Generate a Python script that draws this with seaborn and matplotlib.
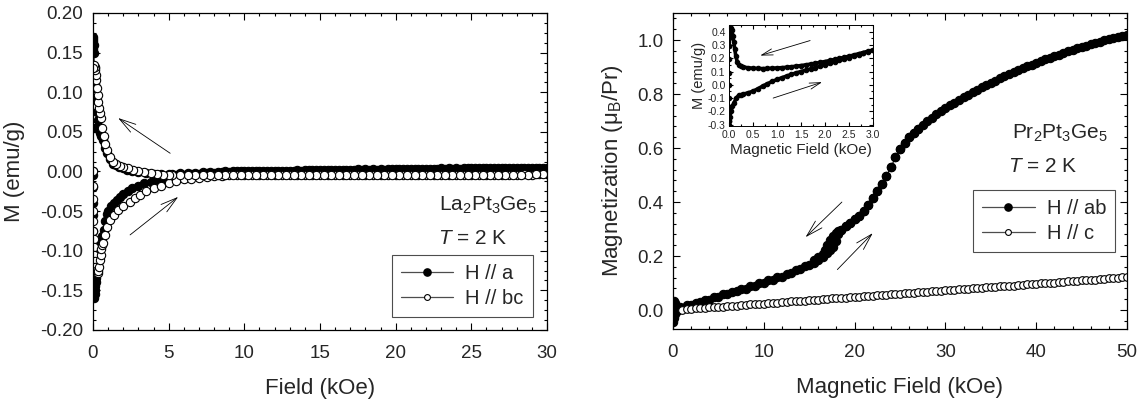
"""
Magnetization loops of La2Pt3Ge5 and Pr2Pt3Ge5 at T = 2 K.
Left: low-field loop of La2Pt3Ge5, right: Pr2Pt3Ge5 with an inset of the low-field loop.
"""

import matplotlib
matplotlib.use("Agg")
import matplotlib.pyplot as plt
from matplotlib.lines import Line2D
from matplotlib.ticker import MultipleLocator, FormatStrFormatter
import seaborn as sns

# ---------------- La2Pt3Ge5 (left panel) ----------------
# field grid used for the high-field part of both loops (kOe)
HF_UP = [5.5, 6.0, 6.5, 7.0, 7.5, 8.0, 8.5, 9.0, 9.5, 10.0,
         10.5, 11.0, 11.5, 12.0, 12.5, 13.0, 13.5, 14.0, 14.5, 15.0,
         15.5, 16.0, 16.5, 17.0, 17.5, 18.0, 18.5, 19.0, 19.5, 20.0,
         20.5, 21.0, 21.5, 22.0, 22.5, 23.0, 23.5, 24.0, 24.5, 25.0,
         25.5, 26.0, 26.5, 27.0, 27.5, 28.0, 28.5, 29.0, 29.5, 30.0]
HF_DN = [29.75, 29.25, 28.75, 28.25, 27.75, 27.25, 26.75, 26.25, 25.75, 25.25,
         24.75, 24.25, 23.75, 23.25, 22.75, 22.25, 21.75, 21.25, 20.75, 20.25,
         19.75, 19.25, 18.75, 18.25, 17.75, 17.25, 16.75, 16.25, 15.75, 15.25,
         14.75, 14.25, 13.75, 13.25, 12.75, 12.25, 11.75, 11.25, 10.75, 10.25,
         9.75, 9.25, 8.75, 8.25, 7.75, 7.25, 6.75, 6.25, 5.75, 5.25]

# H // a (filled)
A_UP_LOW_H = [0.0, 0.005, 0.01, 0.015, 0.02, 0.025, 0.03, 0.04, 0.05, 0.06,
              0.08, 0.1, 0.12, 0.15, 0.18, 0.2, 0.25, 0.3, 0.35, 0.4,
              0.45, 0.5, 0.6, 0.7, 0.8, 0.9, 1.0, 1.2, 1.4, 1.6,
              1.8, 2.0, 2.3, 2.6, 3.0, 3.4, 3.8, 4.2, 4.6, 5.0]
A_UP_LOW_M = [0.0, -0.005, -0.02, -0.04, -0.055, -0.075, -0.095, -0.12, -0.14, -0.155,
              -0.16, -0.155, -0.15, -0.145, -0.14, -0.135, -0.125, -0.115, -0.105, -0.097,
              -0.093, -0.09, -0.082, -0.074, -0.062, -0.054, -0.05, -0.044, -0.04, -0.036,
              -0.032, -0.029, -0.025, -0.021, -0.018, -0.015, -0.013, -0.011, -0.009, -0.007]
A_UP_HIGH_M = [-0.005, -0.004, -0.003, -0.003, -0.002, -0.002, -0.001, -0.001, 0.0, 0.0,
               0.0, 0.001, 0.001, 0.001, 0.001, 0.001, 0.002, 0.002, 0.002, 0.002,
               0.002, 0.002, 0.002, 0.002, 0.003, 0.003, 0.003, 0.003, 0.003, 0.003,
               0.003, 0.003, 0.003, 0.003, 0.003, 0.004, 0.004, 0.004, 0.004, 0.004,
               0.004, 0.004, 0.004, 0.004, 0.004, 0.005, 0.005, 0.005, 0.005, 0.005]
A_DN_HIGH_M = [0.005, 0.005, 0.005, 0.004, 0.004, 0.004, 0.004, 0.004, 0.004, 0.004,
               0.004, 0.003, 0.003, 0.003, 0.003, 0.003, 0.003, 0.003, 0.003, 0.003,
               0.003, 0.002, 0.002, 0.002, 0.002, 0.002, 0.002, 0.002, 0.002, 0.002,
               0.002, 0.002, 0.001, 0.001, 0.001, 0.001, 0.001, 0.001, 0.001, 0.0,
               0.0, 0.0, 0.0, -0.001, -0.001, -0.001, -0.002, -0.002, -0.002, -0.003]
A_DN_LOW_H = [5.0, 4.5, 4.0, 3.5, 3.0, 2.6, 2.25, 2.0, 1.7, 1.5,
              1.3, 1.1, 0.93, 0.8, 0.66, 0.55, 0.46, 0.4, 0.35, 0.3,
              0.25, 0.2, 0.15, 0.1, 0.07, 0.05, 0.03, 0.02, 0.01, 0.0, 0.0]
A_DN_LOW_M = [-0.003, -0.003, -0.003, -0.002, -0.001, 0.0, 0.002, 0.004, 0.006, 0.008,
              0.01, 0.016, 0.023, 0.03, 0.04, 0.045, 0.048, 0.052, 0.057, 0.065,
              0.075, 0.09, 0.11, 0.13, 0.15, 0.16, 0.167, 0.17, 0.165, 0.155, 0.055]

# H // bc (open)
BC_UP_LOW_H = [0.0, 0.005, 0.01, 0.015, 0.02, 0.03, 0.04, 0.05, 0.07, 0.1,
               0.15, 0.2, 0.25, 0.3, 0.35, 0.4, 0.45, 0.5, 0.55, 0.6,
               0.66, 0.8, 0.95, 1.13, 1.4, 1.66, 2.0, 2.45, 2.8, 3.1,
               3.5, 4.0, 4.5, 5.0]
BC_UP_LOW_M = [0.0, -0.018, -0.035, -0.05, -0.062, -0.075, -0.085, -0.095, -0.105, -0.113,
               -0.12, -0.125, -0.128, -0.128, -0.125, -0.12, -0.112, -0.105, -0.098, -0.093,
               -0.09, -0.08, -0.07, -0.061, -0.055, -0.049, -0.043, -0.038, -0.034, -0.03,
               -0.025, -0.021, -0.018, -0.014]
BC_UP_HIGH_M = [-0.012, -0.01, -0.009, -0.008, -0.007, -0.006, -0.006, -0.005, -0.005, -0.005,
                -0.005, -0.005, -0.005, -0.005, -0.005, -0.005, -0.005, -0.005, -0.005, -0.005,
                -0.005, -0.005, -0.005, -0.005, -0.005, -0.004, -0.005, -0.005, -0.004, -0.004,
                -0.004, -0.004, -0.005, -0.004, -0.004, -0.004, -0.004, -0.004, -0.004, -0.004,
                -0.004, -0.004, -0.004, -0.004, -0.004, -0.004, -0.003, -0.004, -0.003, -0.003]
BC_DN_HIGH_M = [-0.003, -0.003, -0.004, -0.004, -0.004, -0.004, -0.004, -0.004, -0.004, -0.004,
                -0.004, -0.004, -0.004, -0.004, -0.004, -0.004, -0.005, -0.004, -0.004, -0.005,
                -0.005, -0.005, -0.005, -0.005, -0.005, -0.005, -0.005, -0.005, -0.005, -0.005,
                -0.005, -0.005, -0.005, -0.005, -0.005, -0.005, -0.005, -0.005, -0.005, -0.005,
                -0.005, -0.005, -0.005, -0.005, -0.005, -0.005, -0.005, -0.005, -0.004, -0.004]
BC_DN_LOW_H = [5.0, 4.6, 4.2, 3.8, 3.4, 3.0, 2.65, 2.3, 2.0, 1.8,
               1.55, 1.3, 1.1, 0.93, 0.8, 0.7, 0.6, 0.5, 0.46, 0.4,
               0.35, 0.3, 0.26, 0.22, 0.18, 0.14, 0.1, 0.06, 0.03]
BC_DN_LOW_M = [-0.004, -0.004, -0.003, -0.002, -0.001, 0.0, 0.002, 0.004, 0.006, 0.007,
               0.009, 0.012, 0.018, 0.027, 0.035, 0.045, 0.055, 0.067, 0.074, 0.08,
               0.088, 0.097, 0.105, 0.115, 0.122, 0.128, 0.132, 0.135, 0.13]

# ---------------- Pr2Pt3Ge5 (right panel) ----------------
AB_UP_H = [0.0, 0.1, 0.2, 0.4, 0.7, 1.0, 1.5,
           2, 3, 4, 5, 6, 7, 8, 9, 10, 11, 12, 13, 14, 15,
           15.5, 16, 16.5, 17, 17.3, 17.6, 17.9, 18.2, 18.5,
           19, 19.5, 20, 20.5, 21, 21.5, 22, 22.5, 23, 23.5, 24, 24.5, 25, 25.5, 26, 26.5, 27,
           28, 29, 30, 31, 32, 33, 34, 35, 36, 37, 38, 39, 40, 41, 42, 43, 44, 45, 46, 47, 48, 49, 50]
AB_UP_M = [0.0, -0.03, -0.015, -0.005, 0.003, 0.008, 0.013,
           0.019, 0.029, 0.039, 0.049, 0.059, 0.069, 0.079, 0.09, 0.1, 0.112, 0.124, 0.137, 0.151, 0.167,
           0.176, 0.186, 0.198, 0.212, 0.222, 0.235, 0.255, 0.28, 0.295,
           0.31, 0.322, 0.336, 0.35, 0.368, 0.39, 0.415, 0.44, 0.468, 0.497, 0.53, 0.565, 0.595, 0.62,
           0.64, 0.657, 0.672,
           0.7, 0.725, 0.747, 0.768, 0.788, 0.807, 0.825, 0.842, 0.858, 0.873, 0.888, 0.902, 0.915,
           0.928, 0.94, 0.952, 0.963, 0.974, 0.984, 0.994, 1.003, 1.012, 1.02]
AB_DN_H = [49.5, 48.5, 47.5, 46.5, 45.5, 44.5, 43.5, 42.5, 41.5, 40.5, 39.5, 38.5, 37.5, 36.5,
           35.5, 34.5, 33.5, 32.5, 31.5, 30.5, 29.5, 28.5, 27.5,
           27, 26.5, 26, 25.5, 25, 24.5, 24, 23.5, 23, 22.5, 22, 21.5, 21, 20.5, 20, 19.5, 19, 18.5,
           18.2, 17.9, 17.6, 17.3, 17.0, 16.75, 16.5, 16.0, 15.5,
           14.5, 13.5, 12.5, 11.5, 10.5, 9.5, 8.5, 7.5, 6.5, 5.5, 4.5, 3.5, 2.5, 1.5,
           0.8, 0.4, 0.2, 0.1, 0.0, 0.0, 0.0, 0.0, 0.05]
AB_DN_M = [1.016, 1.008, 0.999, 0.989, 0.979, 0.969, 0.958, 0.946, 0.934, 0.922, 0.909, 0.895,
           0.881, 0.866, 0.85, 0.834, 0.816, 0.798, 0.778, 0.758, 0.736, 0.713, 0.687,
           0.672, 0.657, 0.64, 0.62, 0.595, 0.565, 0.53, 0.497, 0.468, 0.44, 0.415, 0.39, 0.368,
           0.35, 0.336, 0.322, 0.31, 0.298,
           0.292, 0.285, 0.275, 0.26, 0.24, 0.224, 0.209, 0.195, 0.184,
           0.163, 0.148, 0.134, 0.122, 0.110, 0.099, 0.088, 0.078, 0.068, 0.058, 0.048, 0.038,
           0.028, 0.018,
           0.011, 0.01, 0.025, 0.035, 0.03, 0.012, -0.01, -0.03, -0.045]

C_H = [1.0, 1.5, 2.0, 2.5, 3.0, 3.5, 4.0, 4.5, 5.0, 5.5,
       6.0, 6.5, 7.0, 7.5, 8.0, 8.5, 9.0, 9.5, 10.0, 10.5,
       11.0, 11.5, 12.0, 12.5, 13.0, 13.5, 14.0, 14.5, 15.0, 15.5,
       16.0, 16.5, 17.0, 17.5, 18.0, 18.5, 19.0, 19.5, 20.0, 20.5,
       21.0, 21.5, 22.0, 22.5, 23.0, 23.5, 24.0, 24.5, 25.0, 25.5,
       26.0, 26.5, 27.0, 27.5, 28.0, 28.5, 29.0, 29.5, 30.0, 30.5,
       31.0, 31.5, 32.0, 32.5, 33.0, 33.5, 34.0, 34.5, 35.0, 35.5,
       36.0, 36.5, 37.0, 37.5, 38.0, 38.5, 39.0, 39.5, 40.0, 40.5,
       41.0, 41.5, 42.0, 42.5, 43.0, 43.5, 44.0, 44.5, 45.0, 45.5,
       46.0, 46.5, 47.0, 47.5, 48.0, 48.5, 49.0, 49.5, 50.0]
C_M = [0.002, 0.004, 0.005, 0.006, 0.007, 0.009, 0.010, 0.011, 0.012, 0.013,
       0.015, 0.016, 0.017, 0.018, 0.020, 0.021, 0.022, 0.023, 0.024, 0.026,
       0.027, 0.028, 0.029, 0.031, 0.032, 0.033, 0.034, 0.035, 0.037, 0.038,
       0.039, 0.040, 0.042, 0.043, 0.044, 0.045, 0.046, 0.048, 0.049, 0.050,
       0.051, 0.053, 0.054, 0.055, 0.056, 0.057, 0.059, 0.060, 0.061, 0.062,
       0.063, 0.065, 0.066, 0.067, 0.068, 0.069, 0.071, 0.072, 0.073, 0.074,
       0.076, 0.077, 0.078, 0.079, 0.080, 0.082, 0.083, 0.084, 0.085, 0.086,
       0.088, 0.089, 0.090, 0.091, 0.093, 0.094, 0.095, 0.096, 0.097, 0.099,
       0.100, 0.101, 0.102, 0.104, 0.105, 0.106, 0.107, 0.108, 0.110, 0.111,
       0.112, 0.113, 0.115, 0.116, 0.117, 0.118, 0.119, 0.121, 0.122]

# inset: low-field loop of Pr2Pt3Ge5 in emu/g
INS_DN_H = [3.0, 2.9, 2.8, 2.7, 2.6, 2.5, 2.4, 2.3, 2.2, 2.1,
            2.0, 1.9, 1.8, 1.7, 1.6, 1.5, 1.4, 1.3, 1.2, 1.1,
            1.0, 0.9, 0.8, 0.7, 0.6, 0.5, 0.4, 0.3,
            0.25, 0.2, 0.17, 0.14, 0.12, 0.1, 0.08, 0.06, 0.04, 0.02, 0.01, 0.0]
INS_DN_M = [0.262, 0.253, 0.243, 0.234, 0.224, 0.215, 0.207, 0.199, 0.191, 0.183,
            0.175, 0.169, 0.162, 0.156, 0.150, 0.145, 0.140, 0.136, 0.132, 0.129,
            0.127, 0.125, 0.123, 0.122, 0.123, 0.125, 0.128, 0.134,
            0.14, 0.152, 0.175, 0.22, 0.27, 0.32, 0.37, 0.41, 0.425, 0.40, 0.35, 0.29]
INS_ZERO_H = [0.0, 0.0, 0.0, 0.0, 0.0, 0.0, 0.0]
INS_ZERO_M = [0.29, 0.195, 0.09, -0.005, -0.1, -0.185, -0.27]
INS_UP_H = [0.0, 0.01, 0.02, 0.04, 0.07, 0.1, 0.15, 0.2, 0.25, 0.3,
            0.4, 0.5, 0.6, 0.7, 0.8, 0.9, 1.0, 1.1, 1.2, 1.3, 1.4, 1.5, 1.6, 1.7, 1.8, 1.9,
            2.0, 2.1, 2.2, 2.3, 2.4, 2.5, 2.6, 2.7, 2.8, 2.9, 3.0]
INS_UP_M = [-0.3, -0.27, -0.24, -0.2, -0.16, -0.14, -0.1, -0.08, -0.075, -0.07,
            -0.06, -0.048, -0.03, -0.01, 0.008, 0.025, 0.04, 0.053, 0.066, 0.078, 0.09, 0.1,
            0.11, 0.12, 0.13, 0.14, 0.15, 0.161, 0.172, 0.183, 0.194, 0.205, 0.216, 0.227,
            0.238, 0.249, 0.26]

W, H = 1148, 417


def draw(ax, field, m, filled, ms, lw=0.5):
    sns.lineplot(x=field, y=m, ax=ax, sort=False, estimator=None, color='black',
                 lw=lw, marker='o', markersize=ms,
                 markerfacecolor='black' if filled else 'white',
                 markeredgecolor='black', markeredgewidth=0.8)


def style(ax, xmaj, xmin, ymaj, ymin, yfmt, size, xpad, ypad, lmaj, lmin):
    ax.xaxis.set_major_locator(MultipleLocator(xmaj))
    ax.xaxis.set_minor_locator(MultipleLocator(xmin))
    ax.yaxis.set_major_locator(MultipleLocator(ymaj))
    ax.yaxis.set_minor_locator(MultipleLocator(ymin))
    ax.yaxis.set_major_formatter(FormatStrFormatter(yfmt))
    ax.tick_params(which='both', direction='in', top=True, right=True,
                   width=0.8, labelsize=size, color='black')
    ax.tick_params(which='major', length=lmaj)
    ax.tick_params(which='minor', length=lmin)
    ax.tick_params(axis='x', pad=xpad)
    ax.tick_params(axis='y', pad=ypad)
    for sp in ax.spines.values():
        sp.set_visible(True)
        sp.set_linewidth(0.9)
        sp.set_color('black')


def arrow(ax, tail, head, scale):
    ax.annotate('', xy=head, xytext=tail,
                arrowprops=dict(arrowstyle='->,head_length=1.0,head_width=0.28',
                                lw=0.6, color='black', mutation_scale=scale,
                                shrinkA=0, shrinkB=0))


def legend(ax, labels, anchor):
    h_fill = Line2D([], [], color='0.3', lw=0.9, marker='o', ms=5.2, mfc='black', mec='black')
    h_open = Line2D([], [], color='0.3', lw=0.9, marker='o', ms=4.2, mfc='white',
                    mec='black', mew=0.8)
    leg = ax.legend([h_fill, h_open], labels, loc='lower right',
                    bbox_to_anchor=anchor, borderaxespad=0, fontsize=14.5,
                    frameon=True, fancybox=False, framealpha=1, edgecolor='0.3',
                    handlelength=2.6, handletextpad=0.6, borderpad=0.45, labelspacing=0.3)
    leg.get_frame().set_linewidth(0.8)


def main():
    sns.set_style("ticks")
    plt.rcParams['font.family'] = ['Liberation Sans', 'DejaVu Sans']
    plt.rcParams['mathtext.fontset'] = 'custom'
    plt.rcParams['mathtext.rm'] = 'Liberation Sans'
    plt.rcParams['mathtext.it'] = 'Liberation Sans:italic'
    plt.rcParams['axes.unicode_minus'] = False

    fig = plt.figure(figsize=(W / 100, H / 100), dpi=100)

    # ---- left panel ----
    ax1 = fig.add_axes([93 / W, 1 - 330 / H, 454 / W, 317 / H])
    draw(ax1, A_UP_LOW_H + HF_UP, A_UP_LOW_M + A_UP_HIGH_M, True, 6)
    draw(ax1, HF_DN + A_DN_LOW_H, A_DN_HIGH_M + A_DN_LOW_M, True, 6)
    draw(ax1, BC_UP_LOW_H + HF_UP, BC_UP_LOW_M + BC_UP_HIGH_M, False, 6)
    draw(ax1, HF_DN + BC_DN_LOW_H, BC_DN_HIGH_M + BC_DN_LOW_M, False, 6)
    ax1.set_xlim(0, 30)
    ax1.set_ylim(-0.2, 0.2)
    style(ax1, 5, 1, 0.05, 0.0125, '%.2f', 13.5, 11, 7, 5, 2.5)
    ax1.set_xlabel('Field (kOe)', fontsize=16, labelpad=11)
    ax1.set_ylabel('M (emu/g)', fontsize=16, labelpad=11)
    arrow(ax1, (5.1, 0.023), (1.66, 0.0675), 12)
    arrow(ax1, (2.45, -0.080), (5.63, -0.032), 12)
    ax1.text(0.978, 0.394, 'La$_2$Pt$_3$Ge$_5$', transform=ax1.transAxes,
             ha='right', va='center', fontsize=15)
    ax1.text(0.837, 0.29, '$T$ = 2 K', transform=ax1.transAxes,
             ha='center', va='center', fontsize=15)
    legend(ax1, ['H // a', 'H // bc'], (0.969, 0.041))

    # ---- right panel ----
    ax2 = fig.add_axes([673 / W, 1 - 329 / H, 454 / W, 316 / H])
    draw(ax2, AB_UP_H, AB_UP_M, True, 6)
    draw(ax2, AB_DN_H, AB_DN_M, True, 6)
    draw(ax2, C_H, C_M, False, 5.5)
    ax2.set_xlim(0, 50)
    ax2.set_ylim(-0.07, 1.1)
    style(ax2, 10, 2, 0.2, 0.04, '%.1f', 13.5, 11, 7, 5, 2.5)
    ax2.set_xlabel('Magnetic Field (kOe)', fontsize=16, labelpad=11)
    ax2.set_ylabel('Magnetization (μ$_{\\rm B}$/Pr)', fontsize=16, labelpad=9)
    arrow(ax2, (18.6, 0.40), (14.6, 0.27), 12)
    arrow(ax2, (18.1, 0.15), (22.0, 0.285), 12)
    ax2.text(0.958, 0.62, 'Pr$_2$Pt$_3$Ge$_5$', transform=ax2.transAxes,
             ha='right', va='center', fontsize=15)
    ax2.text(0.815, 0.513, '$T$ = 2 K', transform=ax2.transAxes,
             ha='center', va='center', fontsize=15)
    legend(ax2, ['H // ab', 'H // c'], (0.974, 0.244))

    # ---- inset ----
    ax3 = fig.add_axes([729 / W, 1 - 126 / H, 144 / W, 101 / H])
    draw(ax3, INS_DN_H, INS_DN_M, True, 3.2, lw=2.6)
    draw(ax3, INS_ZERO_H, INS_ZERO_M, True, 3.2, lw=0.5)
    draw(ax3, INS_UP_H, INS_UP_M, True, 3.2, lw=2.6)
    ax3.set_xlim(0, 3.0)
    ax3.set_ylim(-0.31, 0.45)
    style(ax3, 0.5, 0.25, 0.1, 0.05, '%.1f', 7.5, 3, 2.5, 3, 1.5)
    ax3.xaxis.set_major_formatter(FormatStrFormatter('%.1f'))
    ax3.set_xlabel('Magnetic Field (kOe)', fontsize=11, labelpad=2)
    ax3.set_ylabel('M (emu/g)', fontsize=10.5, labelpad=1)
    for sp in ax3.spines.values():
        sp.set_linewidth(0.7)
    arrow(ax3, (1.69, 0.333), (0.65, 0.22), 8)
    arrow(ax3, (0.92, -0.10), (1.94, 0.02), 8)

    fig.savefig('out.png', dpi=100)
    plt.close(fig)


if __name__ == "__main__":
    main()
